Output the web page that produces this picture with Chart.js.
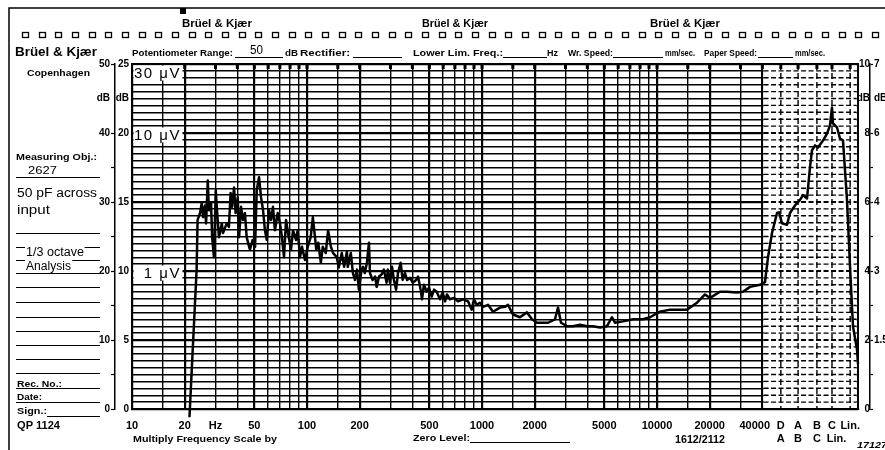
<!DOCTYPE html>
<html>
<head>
<meta charset="utf-8">
<script src="https://cdn.jsdelivr.net/npm/chart.js@4.4.1/dist/chart.umd.min.js"></script>
<style>
  html, body { margin: 0; padding: 0; background: #fff; }
  #sheet { position: relative; width: 885px; height: 450px; overflow: hidden; background: #fff; }
  #sheet canvas { position: absolute; left: 0; top: 0; }
  .t { position: absolute; white-space: nowrap; color: #000; transform-origin: 0 0; }
</style>
</head>
<body>
<div id="sheet"><canvas id="chart" width="885" height="450"></canvas></div>
<script>
const freqHz = [21.3, 23.4, 23.7, 24.5, 25.0, 25.5, 26.1, 26.5, 27.1, 27.5,
  28.3, 28.7, 29.4, 30.1, 30.6, 31.4, 32.6, 33.1, 34.8, 35.8,
  36.6, 37.3, 38.3, 39.1, 40.2, 40.9, 42.0, 43.1, 44.2, 45.2,
  47.2, 48.9, 50.5, 51.6, 53.2, 54.6, 56.1, 57.5, 58.9, 60.7,
  62.3, 63.9, 65.6, 68.0, 70.1, 71.9, 73.9, 75.9, 77.9, 81.0,
  83.2, 86.5, 88.5, 91.2, 93.6, 97.4, 101, 105, 108, 113,
  116, 120, 123, 128, 132, 137, 141, 148, 152, 158,
  163, 169, 171, 178, 183, 188, 193, 198, 205, 209,
  214, 220, 226, 229, 237, 245, 250, 258, 267, 275,
  285, 290, 298, 306, 314, 323, 331, 343, 352, 363,
  373, 388, 402, 420, 431, 446, 454, 466, 483, 498,
  516, 532, 551, 575, 596, 615, 631, 656, 692, 729,
  779, 832, 873, 900, 933, 974, 1013, 1082, 1156, 1267,
  1353, 1408, 1503, 1648, 1808, 1931, 2062, 2232, 2384, 2613,
  2719, 2828, 3060, 3311, 3631, 3981, 4309, 4724, 5180, 5534,
  5754, 6392, 7295, 8318, 9120, 10400, 11870, 13530, 14840, 16930,
  18800, 20090, 22910, 25120, 28650, 31000, 34000, 38780, 41400, 43090,
  45420, 48500, 49800, 51800, 55340, 57540, 61460, 65640, 68300, 71970,
  74850, 76870, 79980, 83180, 88840, 93630, 97400, 100000, 101300, 106800,
  111100, 115600, 121800, 126800, 131800, 139000, 140800];
const levelDb = [-1.2, 20.2, 27.4, 28.4, 29.8, 27.8, 29.5, 26.9, 33.1, 28.8,
  29.8, 24.9, 22.0, 31.7, 28.8, 24.9, 26.9, 25.5, 26.9, 26.4,
  31.3, 29.3, 32.1, 28.4, 30.7, 24.9, 29.3, 27.4, 28.4, 24.9,
  23.1, 24.5, 23.5, 31.7, 33.6, 30.7, 28.8, 25.9, 24.5, 28.8,
  27.4, 29.3, 25.9, 28.4, 26.9, 24.9, 22.0, 27.4, 25.5, 23.1,
  25.9, 24.5, 25.9, 22.0, 23.5, 21.6, 23.5, 24.9, 27.8, 23.1,
  24.1, 21.2, 23.5, 22.6, 25.9, 23.5, 22.6, 22.0, 20.5, 22.6,
  20.6, 22.8, 20.6, 22.6, 19.7, 18.7, 20.2, 17.3, 20.2, 20.6,
  19.7, 21.2, 24.1, 19.7, 18.7, 19.2, 17.7, 19.2, 19.5, 20.2,
  18.3, 20.2, 18.3, 20.6, 18.7, 17.3, 19.7, 21.2, 18.7, 19.7,
  18.7, 19.0, 18.3, 18.7, 19.2, 17.3, 15.9, 18.0, 17.0, 17.6,
  16.3, 17.3, 17.0, 15.9, 16.9, 15.6, 16.6, 15.9, 16.1, 15.6,
  15.9, 15.6, 14.4, 15.9, 15.1, 15.4, 14.8, 15.1, 14.1, 14.7,
  14.8, 15.1, 13.7, 13.3, 14.0, 13.0, 12.5, 12.5, 12.5, 13.0,
  14.7, 12.5, 12.0, 12.0, 12.2, 12.0, 12.0, 11.8, 12.0, 13.3,
  12.5, 12.7, 13.0, 13.0, 13.3, 14.1, 14.4, 14.4, 14.4, 15.4,
  16.6, 16.1, 17.0, 17.0, 16.9, 17.0, 17.7, 18.0, 18.4, 22.0,
  25.5, 28.4, 28.5, 26.9, 26.7, 28.4, 29.5, 30.3, 31.0, 30.5,
  35.0, 37.5, 38.2, 37.9, 38.9, 39.9, 41.1, 43.7, 41.4, 40.8,
  39.2, 38.9, 30.3, 20.6, 12.0, 8.6, 6.5];

// frequency grid of the paper and its labels
const gridFreqs = [10, 15, 20, 30, 40, 50, 60, 70, 80, 90,
  100, 150, 200, 300, 400, 500, 600, 700, 800, 900,
  1000, 1500, 2000, 3000, 4000, 5000, 6000, 7000, 8000, 9000,
  10000, 15000, 20000, 30000, 40000];
const labelFreqs = [10, 20, 30, 50, 100, 200, 500, 1000, 2000, 5000, 10000, 20000, 40000];
const labelTexts = ['10', '20', 'Hz', '50', '100', '200', '500', '1000', '2000', '5000', '10000', '20000', '40000'];
// weighting network positions at the right end of the paper
const weightFreqs = [51000, 64000, 82000, 100000, 127000];
const weightTop = ['D', 'A', 'B', 'C', 'Lin.'];
const weightBottom = ['A', 'B', 'C', 'Lin.', ''];

// level scales
const dbTickValues = [0, 10, 20, 30, 40, 45, 50];
const leftOuterLabels = ['0', '10', '20', '30', '40', 'dB', '50'];
const leftInnerLabels = ['0', '5', '10', '15', '20', 'dB', '25'];
const rightInnerLabels = ['0', '2', '4', '6', '8', 'dB', '10'];
const rightOuterLabels = ['', '1.5', '3', '4', '6', 'dB', '7'];
const uvDb = [50, 40, 20];
const uvText = ['30 μV', '10 μV', '1 μV'];

const FONT = '"Liberation Sans", Arial, sans-serif';
const NB = '\u00a0';
Chart.defaults.font.family = FONT;
Chart.defaults.color = '#000';

function dbLabel(labels) {
  return (v) => {
    const i = dbTickValues.indexOf(v);
    return i >= 0 ? labels[i] : '';
  };
}
function range(a, b, step) {
  const out = [];
  for (let v = a; v <= b; v += step) out.push(v);
  return out;
}
// no bracket tick next to the "dB" captions
const bracketTick = c => (c.tick && c.tick.value === 45) ? 'rgba(0,0,0,0)' : '#000';

const paperPlugin = {
  id: 'paper',
  beforeDatasetsDraw(chart) {
    const { ctx, chartArea: a, scales } = chart;
    const x = scales.x, y = scales.y;
    ctx.save();
    // dashed zone past 40000
    const x0 = x.getPixelForValue(40000) + 1.2;
    ctx.fillStyle = '#fff';
    ctx.fillRect(x0, a.top + 1.5, a.right - 1.5 - x0, a.bottom - a.top - 3);
    ctx.strokeStyle = '#000';
    ctx.setLineDash([5, 2.5]);
    for (let v = 1; v < 50; v++) {
      const py = y.getPixelForValue(v);
      ctx.lineWidth = v % 10 === 0 ? 2 : 1.4;
      ctx.beginPath();
      ctx.moveTo(x0, py);
      ctx.lineTo(a.right - 1.5, py);
      ctx.stroke();
    }
    ctx.setLineDash([6, 3]);
    ctx.lineWidth = 1.4;
    weightFreqs.forEach(f => {
      const px = x.getPixelForValue(f);
      ctx.beginPath();
      ctx.moveTo(px, a.top);
      ctx.lineTo(px, a.bottom);
      ctx.stroke();
    });
    ctx.setLineDash([]);

    // heavy top edge with pen marks
    ctx.lineWidth = 2;
    ctx.beginPath();
    ctx.moveTo(a.left, a.top);
    ctx.lineTo(a.right, a.top);
    ctx.stroke();
    ctx.fillStyle = '#000';
    gridFreqs.concat(weightFreqs).forEach(f => {
      const px = x.getPixelForValue(f);
      if (px > 182) ctx.fillRect(px - 1.5, a.top, 3, 5);
    });

    // microvolt marks on the left of the grid
    ctx.font = '15px ' + FONT;
    if ('letterSpacing' in ctx) ctx.letterSpacing = '1.5px';
    ctx.textAlign = 'right';
    ctx.textBaseline = 'alphabetic';
    uvDb.forEach((d, i) => {
      const base = Math.max(y.getPixelForValue(d) + 7, a.top + 14);
      ctx.fillStyle = '#fff';
      ctx.fillRect(a.left + 1.5, base - 12.5, 49, 15);
      ctx.fillStyle = '#000';
      ctx.fillText(uvText[i], a.left + 49, base);
    });
    ctx.restore();
  },
  afterDraw(chart) {
    const { ctx } = chart;
    ctx.save();
    ctx.strokeStyle = '#000';
    ctx.fillStyle = '#000';
    // paper edge
    ctx.lineWidth = 1.5;
    ctx.beginPath();
    ctx.moveTo(9, 450);
    ctx.lineTo(9, 8);
    ctx.lineTo(885, 8);
    ctx.stroke();
    ctx.fillRect(180, 8, 6, 6);
    // sprocket holes
    ctx.lineWidth = 1.3;
    for (let sx = 22; sx < 880; sx += 16.67) ctx.strokeRect(Math.round(sx) + 0.5, 32.5, 6, 5);
    // form lines
    ctx.lineWidth = 1.1;
    const line = (x1, x2, yy) => { ctx.beginPath(); ctx.moveTo(x1, yy + 0.5); ctx.lineTo(x2, yy + 0.5); ctx.stroke(); };
    [177, 233, 247, 260, 273, 287, 302, 317, 331, 345, 359, 373, 388, 402].forEach(yy => line(16, 100, yy));
    line(47, 100, 416);
    [[235, 283], [353, 402], [503, 547], [613, 663], [758, 793]].forEach(([a, b]) => line(a, b, 57));
    line(470, 570, 442);
    ctx.restore();
  }
};

new Chart(document.getElementById('chart'), {
  type: 'line',
  data: {
    datasets: [{
      data: freqHz.map((f, i) => ({ x: f, y: levelDb[i] })),
      borderColor: '#000',
      borderWidth: 2.5,
      borderJoinStyle: 'round',
      pointRadius: 0,
      tension: 0,
      clip: false,
      yAxisID: 'y'
    }]
  },
  options: {
    responsive: false,
    animation: false,
    devicePixelRatio: 1,
    layout: { padding: { left: 96, right: 0, top: 64, bottom: 0 } },
    plugins: { legend: { display: false }, tooltip: { enabled: false } },
    scales: {
      x: {
        type: 'logarithmic',
        min: 10,
        max: 140800,
        afterBuildTicks: s => { s.ticks = gridFreqs.concat(weightFreqs).map(v => ({ value: v })); },
        afterFit: s => { s.height = 41; },
        ticks: {
          autoSkip: false,
          maxRotation: 0,
          minRotation: 0,
          padding: 10,
          font: { size: 11, weight: 'bold' },
          callback: v => {
            const i = labelFreqs.indexOf(v);
            // the last frequency is printed a little to the left, clear of "D"
            if (i >= 0) return labelTexts[i] + (i === labelFreqs.length - 1 ? NB.repeat(5) : '');
            const j = weightFreqs.indexOf(v);
            if (j >= 0) return [weightTop[j], (weightBottom[j].length > 1 ? NB.repeat(3) : '') + weightBottom[j]];
            return '';
          }
        },
        grid: {
          drawTicks: false,
          color: c => (c.tick && weightFreqs.includes(c.tick.value)) ? 'rgba(0,0,0,0)' : '#000',
          lineWidth: c => (c.tick && labelFreqs.includes(c.tick.value) && c.tick.value !== 30) ? 2.2 : 1.4
        },
        border: { display: true, color: '#000', width: 2 }
      },
      y: {
        position: 'left',
        weight: 0,
        min: 0,
        max: 50,
        afterBuildTicks: s => { s.ticks = range(0, 50, 1).map(v => ({ value: v })); },
        afterFit: s => { s.width = 17; },
        ticks: { autoSkip: false, padding: 3, font: { size: 10, weight: 'bold' }, callback: dbLabel(leftInnerLabels) },
        grid: {
          drawTicks: false,
          color: '#000',
          lineWidth: c => (c.tick && c.tick.value % 10 === 0) ? 2.2 : 1.4
        },
        border: { display: true, color: '#000', width: 2 }
      },
      yOuter: {
        position: 'left',
        weight: 1,
        min: 0,
        max: 50,
        afterBuildTicks: s => { s.ticks = range(0, 50, 5).map(v => ({ value: v })); },
        afterFit: s => { s.width = 19; },
        ticks: { autoSkip: false, padding: 1, font: { size: 10, weight: 'bold' }, callback: dbLabel(leftOuterLabels) },
        grid: { drawOnChartArea: false, drawTicks: true, tickLength: 4, tickWidth: 1.2, color: '#000', tickColor: bracketTick },
        border: { display: true, color: '#000', width: 1.5 }
      },
      yRight: {
        position: 'right',
        weight: 0,
        min: 0,
        max: 50,
        afterBuildTicks: s => { s.ticks = dbTickValues.map(v => ({ value: v })); },
        afterFit: s => { s.width = 12; },
        ticks: { autoSkip: false, padding: 2, crossAlign: 'far', font: { size: 10, weight: 'bold' }, callback: dbLabel(rightInnerLabels) },
        grid: { drawOnChartArea: false, drawTicks: false, color: '#000' },
        border: { display: true, color: '#000', width: 2 }
      },
      yRightOuter: {
        position: 'right',
        weight: 1,
        min: 0,
        max: 50,
        afterBuildTicks: s => { s.ticks = range(0, 50, 5).map(v => ({ value: v })); },
        afterFit: s => { s.width = 15; },
        ticks: { autoSkip: false, padding: 1, font: { size: 10, weight: 'bold' }, callback: dbLabel(rightOuterLabels) },
        grid: { drawOnChartArea: false, drawTicks: true, tickLength: 3, tickWidth: 1.2, color: '#000', tickColor: bracketTick },
        border: { display: true, color: '#000', width: 1.5 }
      }
    }
  },
  plugins: [paperPlugin]
});

// printed text of the recording paper: [text, left, baseline, size, style, width, white background]
const paperText = [
  ['Brüel & Kjær', 182, 27.5, 11, 'bold', 70],
  ['Brüel & Kjær', 422, 27.5, 11, 'bold', 66],
  ['Brüel & Kjær', 650, 27.5, 11, 'bold', 70],
  ['Brüel & Kjær', 15, 56.5, 13.5, 'bold', 82],
  ['Potentiometer Range:', 132, 56, 9.5, 'bold', 101],
  ['50', 250, 54, 12, 'normal', 13],
  ['dB', 285, 56, 9.5, 'bold', 13],
  ['Rectifier:', 300, 56, 9.5, 'bold', 50],
  ['Lower Lim. Freq.:', 413, 56, 9.5, 'bold', 90],
  ['Hz', 547, 56, 9.5, 'bold', 11],
  ['Wr. Speed:', 568, 56, 9.5, 'bold', 45],
  ['mm/sec.', 665, 56, 9.5, 'bold', 30],
  ['Paper Speed:', 704, 56, 9.5, 'bold', 53],
  ['mm/sec.', 795, 56, 9.5, 'bold', 30],
  ['Copenhagen', 27, 76.5, 9.5, 'bold', 63],
  ['Measuring Obj.:', 16, 160.5, 9.5, 'bold', 81],
  ['2627', 28, 174, 11, 'normal', 29],
  ['50 pF across', 17, 198, 12.5, 'normal', 80],
  ['input', 17, 214.5, 12.5, 'normal', 33],
  ['1/3 octave', 25, 256, 12, 'normal', 60, true],
  ['Analysis', 25, 270, 12, 'normal', 47, true],
  ['Rec. No.:', 17, 387, 9.5, 'bold', 45],
  ['Date:', 17, 400.5, 9.5, 'bold', 25],
  ['Sign.:', 17, 414, 9.5, 'bold', 30],
  ['QP 1124', 17, 429, 10.5, 'bold', 43],
  ['Multiply Frequency Scale by', 133, 442, 9.5, 'bold', 144],
  ['Zero Level:', 413, 441, 9.5, 'bold', 57],
  ['1612/2112', 675, 443, 10, 'bold', 50],
  ['17127', 857, 448, 8.5, 'italic bold', 30]
];

const sheet = document.getElementById('sheet');
paperText.forEach(([text, x, base, size, style, width, bg]) => {
  const el = document.createElement('div');
  el.className = 't';
  el.textContent = text;
  el.style.font = style + ' ' + size + 'px ' + FONT;
  el.style.lineHeight = '1';
  el.style.left = x + 'px';
  el.style.top = (base - 0.846 * size) + 'px';
  if (bg) { el.style.background = '#fff'; el.style.padding = '0 1px'; }
  sheet.appendChild(el);
  if (width) {
    const w = el.getBoundingClientRect().width;
    if (w > 0) el.style.transform = 'scaleX(' + (width / w).toFixed(3) + ')';
  }
});
</script>
</body>
</html>
